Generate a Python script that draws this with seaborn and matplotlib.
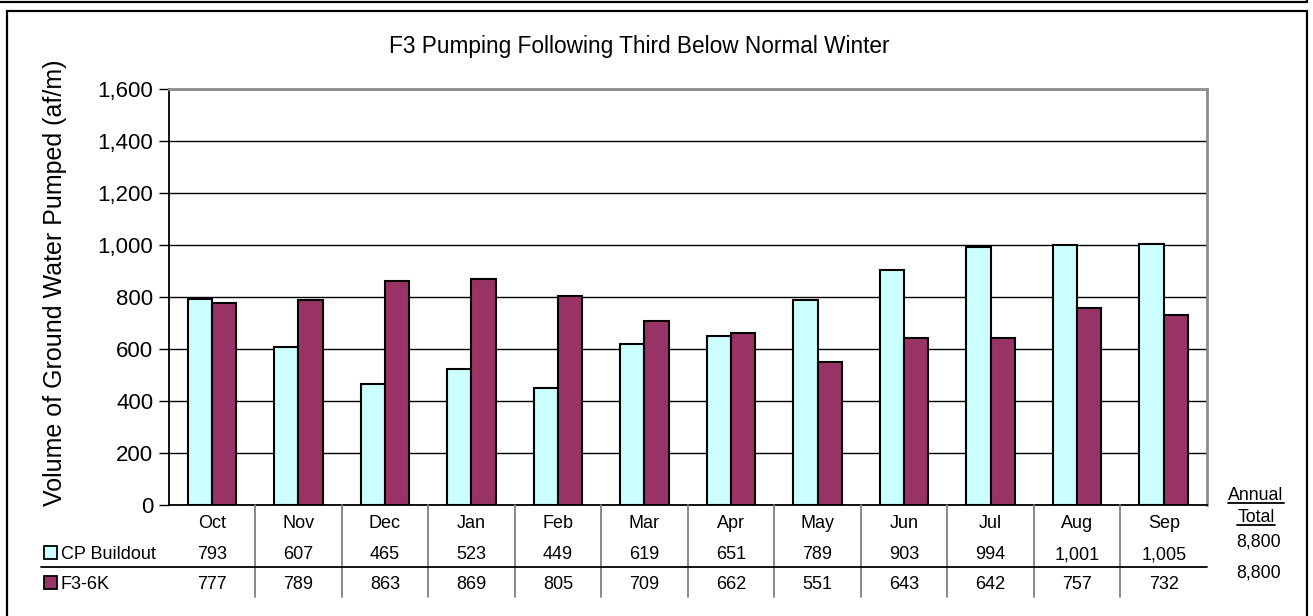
import matplotlib
matplotlib.use("Agg")
import matplotlib.pyplot as plt
import matplotlib.transforms as mtransforms
from matplotlib.lines import Line2D
from matplotlib.patches import Rectangle
import pandas as pd
import seaborn as sns

# ---- data -------------------------------------------------------------
months = ["Oct", "Nov", "Dec", "Jan", "Feb", "Mar",
          "Apr", "May", "Jun", "Jul", "Aug", "Sep"]
series_names = ["CP Buildout", "F3-6K"]
cp_buildout = [793, 607, 465, 523, 449, 619, 651, 789, 903, 994, 1001, 1005]
f3_6k = [777, 789, 863, 869, 805, 709, 662, 551, 643, 642, 757, 732]
y_ticks = [0, 200, 400, 600, 800, 1000, 1200, 1400, 1600]
title = "F3 Pumping Following Third Below Normal Winter"
y_label = "Volume of Ground Water Pumped (af/m)"
series_colors = ["#CCFFFF", "#993366"]

# annual totals, rounded to the nearest hundred acre-feet
annual_totals = [round(sum(v), -2) for v in (cp_buildout, f3_6k)]

# ---- style ------------------------------------------------------------
sns.set_theme(style="white")
plt.rcParams["font.family"] = ["Liberation Sans", "DejaVu Sans"]

W, H = 1313, 616
fig = plt.figure(figsize=(W / 100, H / 100), dpi=100)
fig.patch.set_facecolor("white")


def fy(py):
    """pixel row (from top) -> figure fraction"""
    return 1 - py / H


def fx(px):
    return px / W


L, R, T, B = 168.5, 1207, 89, 505
ax = fig.add_axes([fx(L), fy(B), (R - L) / W, (B - T) / H])

df = pd.DataFrame({
    "Month": months * 2,
    "Series": [s for s in series_names for _ in months],
    "Value": cp_buildout + f3_6k,
})

sns.barplot(data=df, x="Month", y="Value", hue="Series",
            order=months, hue_order=series_names,
            palette=series_colors, saturation=1, width=0.56,
            edgecolor="black", linewidth=1.5, legend=False,
            ax=ax, zorder=3)

ax.set_xlim(-0.5, len(months) - 0.5)
ax.set_ylim(0, 1600)
ax.set_yticks(y_ticks)
ax.set_yticklabels([f"{v:,}" for v in y_ticks])
ax.set_xticks([])
ax.set_xlabel("")
ax.set_ylabel("")
ax.yaxis.grid(True, color="black", linewidth=1.0, zorder=1)
ax.xaxis.grid(False)
ax.tick_params(axis="y", which="major", direction="out", length=7,
               width=1.0, color="black", labelsize=16, pad=4,
               left=True, labelcolor="black")
for side in ("left", "bottom"):
    ax.spines[side].set_color("black")
    ax.spines[side].set_linewidth(1.3)
for side in ("top", "right"):
    ax.spines[side].set_color("#8c8c8c")
    ax.spines[side].set_linewidth(2.0)
ax.set_facecolor("white")

# ---- title and axis label --------------------------------------------
fig.text(fx(639), fy(46), title, ha="center", va="center", fontsize=16.3,
         color="black")
fig.text(fx(55), fy(283), y_label, ha="center", va="center",
         rotation=90, fontsize=18, color="black")

# ---- data table under the axis ---------------------------------------
blend = mtransforms.blended_transform_factory(ax.transData, fig.transFigure)
table_fs = 13
# rows are placed by baseline so commas and descenders don't shift them
base_off = 6.5
row_y = [521.7, 552.7, 582.7]
for i, m in enumerate(months):
    ax.text(i, fy(row_y[0] + base_off), m, transform=blend, ha="center",
            va="baseline", fontsize=table_fs, color="black", clip_on=False)
for vals, ry in zip((cp_buildout, f3_6k), row_y[1:]):
    for i, v in enumerate(vals):
        ax.text(i, fy(ry + base_off), f"{v:,}", transform=blend, ha="center",
                va="baseline", fontsize=table_fs, color="black",
                clip_on=False)

for i in range(len(months) - 1):
    fig.add_artist(Line2D([i + 0.5, i + 0.5], [fy(505), fy(597)],
                          transform=blend, color="#808080", linewidth=1.3))
fig.add_artist(Line2D([fx(41), fx(R)], [fy(567.3), fy(567.3)],
                      transform=fig.transFigure, color="black", linewidth=1.3))

# legend keys inside the table
for name, col, ry in zip(series_names, series_colors, row_y[1:]):
    fig.add_artist(Rectangle((fx(44), fy(ry + 6.5)), 13 / W, 13 / H,
                             facecolor=col, edgecolor="black", linewidth=1.3,
                             transform=fig.transFigure))
    fig.text(fx(61), fy(ry + base_off), name, ha="left", va="baseline",
             fontsize=table_fs, color="black")

# annual totals column
hdr = []
for word, ry in (("Annual", 493), ("Total", 516)):
    hdr.append(fig.text(fx(1256), fy(ry + base_off), word, ha="center",
                        va="baseline", fontsize=12.8, color="black"))
for tot, ry in zip(annual_totals, (540, 570.5)):
    fig.text(fx(1259), fy(ry + base_off), f"{int(tot):,}", ha="center",
             va="baseline", fontsize=12.8, color="black")

fig.canvas.draw()
renderer = fig.canvas.get_renderer()
for t, uy in zip(hdr, (502.7, 524.5)):
    bb = t.get_window_extent(renderer)
    fig.add_artist(Line2D([bb.x0 / W, bb.x1 / W], [fy(uy), fy(uy)],
                          transform=fig.transFigure, color="black",
                          linewidth=1.3))

# ---- frames -----------------------------------------------------------
fig.add_artist(Rectangle((fx(7), fy(650)), (1307 - 7) / W, (650 - 11) / H,
                         facecolor="none", edgecolor="black", linewidth=1.6,
                         transform=fig.transFigure, clip_on=False))
fig.add_artist(Line2D([0, fx(1307), fx(1307)], [fy(1.5), fy(1.5), 1.0],
                      transform=fig.transFigure, color="black", linewidth=1.6))

fig.savefig("out.png", dpi=100, facecolor="white")
